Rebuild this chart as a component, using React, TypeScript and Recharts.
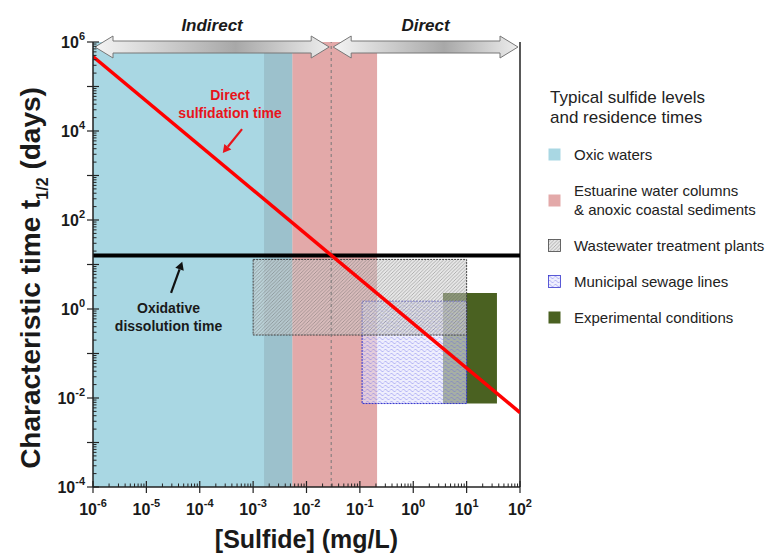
import React from 'react';
import {
  ComposedChart,
  Line,
  XAxis,
  YAxis,
  ReferenceArea,
  ReferenceLine,
  ReferenceDot,
  Label,
} from 'recharts';

// axis decades
const xDecades = [1e-6, 1e-5, 1e-4, 1e-3, 1e-2, 1e-1, 1, 10, 100];
const yDecades = [1e-4, 1e-3, 1e-2, 1e-1, 1, 10, 1e2, 1e3, 1e4, 1e5, 1e6];
const yLabelled = [-4, -2, 0, 2, 4, 6];

// sulfide ranges (mg/L) and residence times (days)
const oxicRange = [1e-6, 5.4e-3];
const estuarineRange = [1.6e-3, 0.21];
const wastewaterBox = { x: [1e-3, 10], y: [0.26, 13] };
const sewageBox = { x: [0.11, 10], y: [0.0075, 1.5] };
const experimentalBox = { x: [3.6, 37], y: [0.0075, 2.3] };
const crossover = 0.029;

// characteristic times
const directLine = [
  { s: 1e-6, t: 4.7e5 },
  { s: 100, t: 4.7e-3 },
];
const oxidativeLine = [
  { s: 1e-6, t: 16 },
  { s: 100, t: 16 },
];

const regimes = [
  { name: 'Indirect', from: 1e-6, to: crossover },
  { name: 'Direct', from: crossover, to: 100 },
];

const legendItems = [
  { label: ['Oxic waters'], fill: '#A9D7E3' },
  { label: ['Estuarine water columns', '& anoxic coastal sediments'], fill: '#E3A9A9' },
  { label: ['Wastewater treatment plants'], fill: 'url(#hatchGray)', stroke: '#444' },
  { label: ['Municipal sewage lines'], fill: 'url(#hatchBlue)', stroke: '#3333cc' },
  { label: ['Experimental conditions'], fill: '#4A6121' },
];

const FONT = '"Liberation Sans", Arial, sans-serif';

// decades plus 2..9 minor ticks
const withMinors = (decades: number[]) => {
  const out: number[] = [];
  decades.forEach((d, i) => {
    out.push(d);
    if (i < decades.length - 1) for (let m = 2; m <= 9; m++) out.push(m * d);
  });
  return out;
};
const xTicks = withMinors(xDecades);
const yTicks = withMinors(yDecades);

const logOf = (v: number) => Math.log10(v);
const isDecade = (v: number) => Math.abs(logOf(v) - Math.round(logOf(v))) < 1e-6;

const XTick = (props: any) => {
  const { x, y, payload } = props;
  const v = payload.value;
  if (!isDecade(v)) return <line x1={x} x2={x} y1={y} y2={y - 3.5} stroke="#222" strokeWidth={1} />;
  return (
    <g>
      <line x1={x} x2={x} y1={y - 6} y2={y + 6} stroke="#222" strokeWidth={1.2} />
      <text x={x} y={y + 28} textAnchor="middle" fontFamily={FONT} fontWeight="bold" fontSize={16} fill="#1a1a1a">
        10
        <tspan dy={-8} fontSize={11}>{Math.round(logOf(v))}</tspan>
      </text>
    </g>
  );
};

const YTick = (props: any) => {
  const { x, y, payload } = props;
  const v = payload.value;
  if (!isDecade(v)) return <line x1={x} x2={x + 3.5} y1={y} y2={y} stroke="#222" strokeWidth={1} />;
  const e = Math.round(logOf(v));
  return (
    <g>
      <line x1={x - 6} x2={x + 6} y1={y} y2={y} stroke="#222" strokeWidth={1.2} />
      {yLabelled.includes(e) && (
        <text x={x - 8} y={y + 6} textAnchor="end" fontFamily={FONT} fontWeight="bold" fontSize={16} fill="#1a1a1a">
          10
          <tspan dy={-8} fontSize={11}>{e}</tspan>
        </text>
      )}
    </g>
  );
};

const RegimeArrow = (props: any) => {
  const { x, y, width, name } = props;
  const x0 = x + 2;
  const x1 = x + width - 2;
  const cy = y + 5;
  const hl = 18;
  const hh = 11;
  const sh = 6;
  const pts = [
    [x0, cy], [x0 + hl, cy - hh], [x0 + hl, cy - sh], [x1 - hl, cy - sh], [x1 - hl, cy - hh],
    [x1, cy], [x1 - hl, cy + hh], [x1 - hl, cy + sh], [x0 + hl, cy + sh], [x0 + hl, cy + hh],
  ].map((p) => p.join(',')).join(' ');
  return (
    <g>
      <polygon points={pts} fill="url(#arrowGrad)" stroke="#777" strokeWidth={1} />
      <text x={(x0 + x1) / 2} y={y - 11} textAnchor="middle" fontFamily={FONT} fontWeight="bold" fontStyle="italic" fontSize={17} fill="#1a1a1a">
        {name}
      </text>
    </g>
  );
};

const ArrowSeg = (color: string) => (props: any) => {
  const { x1, y1, x2, y2 } = props;
  const a = Math.atan2(y2 - y1, x2 - x1);
  const len = 8;
  const w = 4.5;
  const bx = x2 - len * Math.cos(a);
  const by = y2 - len * Math.sin(a);
  const px = -Math.sin(a) * w;
  const py = Math.cos(a) * w;
  return (
    <g>
      <line x1={x1} y1={y1} x2={bx} y2={by} stroke={color} strokeWidth={2.2} />
      <polygon points={`${x2},${y2} ${bx + px},${by + py} ${bx - px},${by - py}`} fill={color} />
    </g>
  );
};

const TwoLineText = (lines: string[], color: string, size: number) => (props: any) => {
  const { cx, cy } = props;
  return (
    <text x={cx} y={cy + 5} textAnchor="middle" fontFamily={FONT} fontWeight="bold" fontSize={size} fill={color}>
      {lines.map((l, i) => (
        <tspan key={i} x={cx} dy={i === 0 ? 0 : size + 4}>{l}</tspan>
      ))}
    </text>
  );
};

export default function App() {
  return (
    <div style={{ position: 'absolute', left: 0, top: 0, width: 775, height: 556, background: '#fff', fontFamily: FONT, overflow: 'hidden' }}>
      <ComposedChart width={775} height={556} margin={{ top: 42, right: 255, bottom: 39, left: 33 }}>
        <defs>
          <linearGradient id="arrowGrad" x1="0" y1="0" x2="1" y2="0">
            <stop offset="0%" stopColor="#f4f4f4" />
            <stop offset="60%" stopColor="#a8a8a8" />
            <stop offset="100%" stopColor="#ededed" />
          </linearGradient>
          <pattern id="hatchGray" patternUnits="userSpaceOnUse" width="3.5" height="3.5">
            <rect width="3.5" height="3.5" fill="rgba(205,205,205,0.5)" />
            <path d="M-1,1 l2,-2 M0,3.5 l3.5,-3.5 M2.5,4.5 l2,-2" stroke="rgba(80,80,80,0.6)" strokeWidth="0.6" />
          </pattern>
          <pattern id="hatchBlue" patternUnits="userSpaceOnUse" width="6" height="4">
            <rect width="6" height="4" fill="rgba(226,226,252,0.6)" />
            <path d="M0,2.5 l1.5,-1.5 l3,3 l1.5,-1.5" fill="none" stroke="rgba(90,90,230,0.7)" strokeWidth="0.6" />
          </pattern>
        </defs>

        <XAxis
          dataKey="s"
          type="number"
          scale="log"
          domain={[1e-6, 100]}
          ticks={xTicks}
          allowDataOverflow
          height={30}
          tick={<XTick />}
          tickLine={false}
          tickSize={0}
          tickMargin={0}
          interval={0}
          stroke="#222"
          strokeWidth={1.5}
        >
          <Label
            content={(p: any) => {
              const vb = p.viewBox;
              return (
                <text x={vb.x + vb.width / 2} y={vb.y + 61} textAnchor="middle" fontFamily={FONT} fontWeight="bold" fontSize={25} fill="#1a1a1a">
                  [Sulfide] (mg/L)
                </text>
              );
            }}
          />
        </XAxis>

        <YAxis
          type="number"
          scale="log"
          domain={[1e-4, 1e6]}
          ticks={yTicks}
          allowDataOverflow
          width={60}
          tick={<YTick />}
          tickLine={false}
          tickSize={0}
          tickMargin={0}
          interval={0}
          stroke="#222"
          strokeWidth={1.5}
        >
          <Label
            content={() => (
              <text transform="translate(40,278) rotate(-90)" textAnchor="middle" fontFamily={FONT} fontWeight="bold" fontSize={28} fill="#1a1a1a">
                Characteristic time t
                <tspan dy={8} fontSize={16}>1/2</tspan>
                <tspan dy={-8}> (days)</tspan>
              </text>
            )}
          />
        </YAxis>

        {/* environment ranges */}
        <ReferenceArea x1={oxicRange[0]} x2={oxicRange[1]} fill="#A9D7E3" fillOpacity={1} stroke="none" />
        <ReferenceArea x1={oxicRange[1]} x2={estuarineRange[1]} fill="#E3A9A9" fillOpacity={1} stroke="none" />
        <ReferenceArea x1={estuarineRange[0]} x2={oxicRange[1]} fill="#9CC1CC" fillOpacity={1} stroke="none" />
        <ReferenceLine x={crossover} stroke="#777" strokeDasharray="3 3" strokeWidth={1} />

        <ReferenceArea x1={experimentalBox.x[0]} x2={experimentalBox.x[1]} y1={experimentalBox.y[0]} y2={experimentalBox.y[1]} fill="#4A6121" fillOpacity={1} stroke="none" />
        <ReferenceArea x1={sewageBox.x[0]} x2={sewageBox.x[1]} y1={sewageBox.y[0]} y2={sewageBox.y[1]} fill="url(#hatchBlue)" fillOpacity={1} stroke="#3333cc" strokeWidth={1} strokeDasharray="2 1" />
        <ReferenceArea x1={wastewaterBox.x[0]} x2={wastewaterBox.x[1]} y1={wastewaterBox.y[0]} y2={wastewaterBox.y[1]} fill="url(#hatchGray)" fillOpacity={1} stroke="#444" strokeWidth={1} strokeDasharray="2 1" />

        {regimes.map((r) => (
          <ReferenceArea
            key={r.name}
            x1={r.from}
            x2={r.to}
            fill="none"
            ifOverflow="visible"
            shape={(p: any) => <RegimeArrow {...p} name={r.name} />}
          />
        ))}

        <ReferenceLine x={100} stroke="#222" strokeWidth={1.5} />

        <Line data={oxidativeLine} dataKey="t" stroke="#000" strokeWidth={4} dot={false} activeDot={false} isAnimationActive={false} />
        <Line data={directLine} dataKey="t" stroke="#FF0000" strokeWidth={3.5} dot={false} activeDot={false} isAnimationActive={false} />

        {/* annotations */}
        <ReferenceLine segment={[{ x: 6.2e-4, y: 1.1e4 }, { x: 2.7e-4, y: 3.2e3 }]} shape={ArrowSeg('#E8141B')} />
        <ReferenceLine segment={[{ x: 2.9e-5, y: 2.3 }, { x: 4.7e-5, y: 11.5 }]} shape={ArrowSeg('#111')} />
        <ReferenceDot x={3.7e-4} y={6.5e4} r={0} shape={TwoLineText(['Direct', 'sulfidation time'], '#E8141B', 14)} />
        <ReferenceDot x={2.6e-5} y={1.05} r={0} shape={TwoLineText(['Oxidative', 'dissolution time'], '#1a1a1a', 14)} />
      </ComposedChart>

      <div style={{ position: 'absolute', left: 550, top: 88, color: '#222' }}>
        <div style={{ fontSize: 17, lineHeight: '20px', whiteSpace: 'nowrap' }}>
          Typical sulfide levels
          <br />
          and residence times
        </div>
        <div style={{ display: 'flex', flexDirection: 'column', gap: 17, marginTop: 17 }}>
          {legendItems.map((it) => (
            <div key={it.label[0]} style={{ display: 'flex', alignItems: 'center', marginLeft: -2 }}>
              <svg width={13} height={13} style={{ flex: 'none' }}>
                <rect x={0.5} y={0.5} width={12} height={12} fill={it.fill} stroke={it.stroke || 'none'} strokeWidth={0.8} />
              </svg>
              <div style={{ marginLeft: 13, fontSize: 15, lineHeight: '19px', whiteSpace: 'nowrap' }}>
                {it.label.map((l) => (
                  <div key={l}>{l}</div>
                ))}
              </div>
            </div>
          ))}
        </div>
      </div>
    </div>
  );
}
